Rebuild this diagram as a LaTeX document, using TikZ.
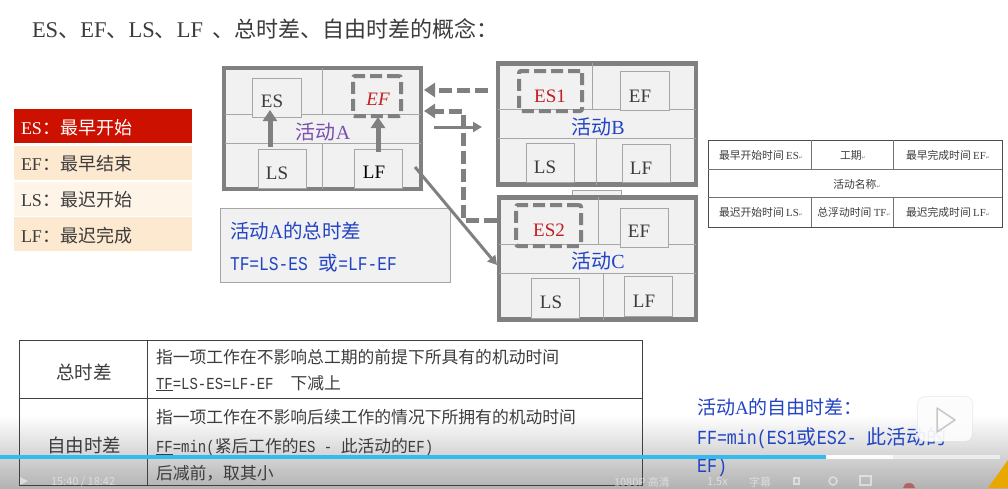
\documentclass[tikz,border=0pt]{standalone}
\usepackage{fontspec}
\usetikzlibrary{arrows.meta}
\setmainfont{Noto Sans CJK SC}
\newfontfamily\lat{Liberation Serif}
\newfontfamily\hw[FakeStretch=0.833]{Liberation Mono}
\newfontfamily\mk{DejaVu Sans}
\newcommand{\fs}[1]{\fontsize{#1}{#1}\selectfont}
\newcommand{\rt}{{\mk\fontsize{5}{5}\selectfont\textcolor{gray}{↵}}}
\newcommand{\qcolon}{\symbol{"FF1A}}
\newcommand{\qcomma}{\symbol{"FF0C}}
\newcommand{\tl}[1]{{\lat\fs{22.5}#1}}
\definecolor{framegray}{HTML}{808080}
\definecolor{cellfill}{HTML}{F1F1F1}
\definecolor{thin}{HTML}{A6A6A6}
\definecolor{txtdark}{HTML}{3C3C3C}
\definecolor{bluetxt}{HTML}{2244C4}
\definecolor{redtxt}{HTML}{C02020}
\definecolor{purptxt}{HTML}{7A4FB0}
\definecolor{legred}{HTML}{CC1100}
\definecolor{legorange}{HTML}{FDE8D0}
\definecolor{legpale}{HTML}{FEF4E8}
\definecolor{barblue}{HTML}{33BBEE}
\definecolor{cornergold}{HTML}{E8A800}
\tikzset{
 x=1pt,y=-1pt,
 every node/.style={inner sep=0pt,outer sep=0pt,text=txtdark},
 actbox/.style={draw=framegray,line width=4.5pt,fill=cellfill,minimum width=197pt,minimum height=121pt},
 cellbox/.style={draw=thin,line width=0.9pt,fill=cellfill},
 dashbox/.style={draw=framegray,line width=4pt,dash pattern=on 12pt off 5pt,rounded corners=2pt},
 inner/.style={draw=thin,line width=0.9pt},
 heavy/.style={draw=framegray,line width=5pt,-{Triangle[length=11pt,width=14pt]}},
 dashheavy/.style={heavy,dash pattern=on 13pt off 5pt},
 light/.style={draw=framegray,line width=3pt,-{Triangle[length=9pt,width=10pt]}},
 celltxt/.style={font=\lat\fs{19}},
 acttxt/.style={font=\fs{20},text=bluetxt},
 legend/.style={minimum width=178pt,minimum height=34pt},
 legtxt/.style={anchor=west,font=\fs{18}},
 rowtxt/.style={anchor=west,font=\fs{16.8}},
 smalltxt/.style={font=\fs{10.8}},
 tableline/.style={draw=#1,line width=1pt},
 uitxt/.style={anchor=west,font=\fs{11},text=white,opacity=.5},
 uiicon/.style={draw=white,opacity=.5,line width=1.5pt},
}
\begin{document}
\begin{tikzpicture}
\useasboundingbox (0,0) rectangle (1008,488);
\fill[white] (0,0) rectangle (1008,488);
\shade[top color=white,bottom color=black!30] (0,415) rectangle (1008,488);

% title
\node[anchor=west,font=\fs{22}] (title) at (32,29) {\tl{ES}、\tl{EF}、\tl{LS}、\tl{LF}\hspace{9pt}、总时差、自由时差的概念\qcolon};

% legend
\node[legend,fill=legred] (l1) at (103,126) {};
\node[legend,fill=legorange] (l2) at (103,163) {};
\node[legend,fill=legpale] (l3) at (103,198.5) {};
\node[legend,fill=legorange] (l4) at (103,234) {};
\node[legtxt,text=white] (l1t) at (21,128) {{\lat ES}\qcolon 最早开始};
\node[legtxt] (l2t) at (21,164) {{\lat EF}\qcolon 最早结束};
\node[legtxt] (l3t) at (21,200) {{\lat LS}\qcolon 最迟开始};
\node[legtxt] (l4t) at (21,236) {{\lat LF}\qcolon 最迟完成};

% small box peeking above C
\node[cellbox,minimum width=49pt,minimum height=8pt] (peek) at (596.5,194) {};

% activity A
\node[actbox] (A) at (322.5,128.5) {};
\draw[inner] (224.5,114) -- (420.5,114) (224.5,143) -- (420.5,143) (322,68) -- (322,114) (322,143) -- (322,189);
\node[cellbox,minimum width=49pt,minimum height=39pt] (AES) at (276.5,97.5) {};
\node[cellbox,minimum width=48pt,minimum height=39pt] (ALS) at (282,168.5) {};
\node[cellbox,minimum width=48pt,minimum height=39pt] (ALF) at (378,168.5) {};
\node[dashbox,minimum width=48pt,minimum height=40pt] (AEF) at (377,96) {};
\node[celltxt] (AESt) at (272,101) {ES};
\node[celltxt,text=redtxt,font=\lat\itshape\fs{19}] (AEFt) at (378,99.5) {EF};
\node[celltxt] (ALSt) at (277,173) {LS};
\node[celltxt,text=black] (ALFt) at (374,172) {LF};
\node[acttxt,text=purptxt] (An) at (323,132) {活动{\lat A}};

% activity B
\node[actbox,minimum width=198pt] (B) at (597,124) {};
\draw[inner] (498,109) -- (696,109) (498,138) -- (696,138) (592,63) -- (592,109) (596,138) -- (596,185);
\node[cellbox,minimum width=49pt,minimum height=39pt] (BEF) at (644.5,91) {};
\node[cellbox,minimum width=48pt,minimum height=39pt] (BLS) at (550,162.5) {};
\node[cellbox,minimum width=48pt,minimum height=38pt] (BLF) at (646,163) {};
\node[dashbox,minimum width=63pt,minimum height=40pt] (ES1) at (550.5,91) {};
\node[celltxt,text=redtxt] (ES1t) at (550,96) {ES1};
\node[celltxt] (BEFt) at (640,96) {EF};
\node[celltxt] (BLSt) at (545,167) {LS};
\node[celltxt] (BLFt) at (641,168) {LF};
\node[acttxt] (Bn) at (598,127) {活动{\lat B}};

% activity C
\node[actbox,minimum width=197pt,minimum height=122pt] (C) at (597.5,258.5) {};
\draw[inner] (499,244) -- (696,244) (499,273) -- (696,273) (598,197) -- (598,244) (603,273) -- (603,320);
\node[cellbox,minimum width=48pt,minimum height=39pt] (CEF) at (644,227.5) {};
\node[cellbox,minimum width=48pt,minimum height=40pt] (CLS) at (555,298) {};
\node[cellbox,minimum width=48pt,minimum height=40pt] (CLF) at (648,296) {};
\node[dashbox,minimum width=65pt,minimum height=41pt] (ES2) at (548.5,225.5) {};
\node[celltxt,text=redtxt] (ES2t) at (549,230) {ES2};
\node[celltxt] (CEFt) at (639,231) {EF};
\node[celltxt] (CLSt) at (551,302) {LS};
\node[celltxt] (CLFt) at (644,301) {LF};
\node[acttxt] (Cn) at (598,261) {活动{\lat C}};

% connector ends
\coordinate (b1) at (488,90);
\coordinate (c1) at (497,220);
\coordinate (m1) at (463,220);
\coordinate (m2) at (463,111);
\coordinate (a1) at (424,90);
\coordinate (a2) at (424,111);
\coordinate (s1) at (434,127);
\coordinate (s2) at (482,127);
\coordinate (d1) at (415,167);
\coordinate (d2) at (497,265);
\coordinate (u1a) at (270,147);
\coordinate (u1b) at (270,110);
\coordinate (u2a) at (378,152);
\coordinate (u2b) at (378,117);

% slack box
\node[draw=thin,line width=1pt,fill=cellfill,minimum width=230pt,minimum height=74pt] (slack) at (335,245) {};
\node[anchor=west,font=\fs{19.5},text=bluetxt] (slack1) at (230,231) {活动{\lat A}的总时差};
\node[anchor=west,font=\fs{19.5},text=bluetxt] (slack2) at (230,263) {{\hw TF=LS-ES\hspace{11pt}}或{\hw =LF-EF}};

\draw[heavy] (u1a) -- (u1b);
\draw[heavy] (u2a) -- (u2b);
\draw[dashheavy] (b1) -- (a1);
\draw[dashheavy] (c1) -- (m1) -- (m2) -- (a2);
\draw[light] (s1) -- (s2);
\draw[light] (d1) -- (d2);

% right table
\draw[tableline=black!70] (708,140) rectangle (1002,227);
\draw[tableline=black!55] (708,169) -- (1002,169) (708,197) -- (1002,197) (811.5,140) -- (811.5,169) (893,140) -- (893,169) (811.5,197) -- (811.5,227) (893,197) -- (893,227);
\node[smalltxt] (r1) at (761,155) {最早开始时间 {\lat ES}\rt};
\node[smalltxt] (r2) at (853,155) {工期\rt};
\node[smalltxt] (r3) at (948,155) {最早完成时间 {\lat EF}\rt};
\node[smalltxt] (r4) at (857,184) {活动名称\rt};
\node[smalltxt] (r5) at (761,212) {最迟开始时间 {\lat LS}\rt};
\node[smalltxt] (r6) at (854,212) {总浮动时间 {\lat TF}\rt};
\node[smalltxt] (r7) at (948,212) {最迟完成时间 {\lat LF}\rt};

% bottom table
\draw[tableline=black!75] (19,340) rectangle (642,485);
\draw[tableline=black!75] (19,398) -- (642,398) (147,340) -- (147,485);
\node[font=\fs{18.5}] (t1) at (84,372) {总时差};
\node[font=\fs{18.5}] (t2) at (84,445) {自由时差};
\node[rowtxt] (t3) at (156,357) {指一项工作在不影响总工期的前提下所具有的机动时间};
\node[rowtxt] (t4) at (156,383) {{\hw\underline{TF}=LS-ES=LF-EF\hspace{17pt}}下减上};
\node[rowtxt] (t5) at (156,417) {指一项工作在不影响后续工作的情况下所拥有的机动时间};
\node[rowtxt] (t6) at (156,447) {{\hw\underline{FF}=min(}紧后工作的{\hw ES - }此活动的{\hw EF)}};
\node[rowtxt] (t7) at (156,473) {后减前\qcomma 取其小};

% free float note
\node[anchor=west,font=\fs{19},text=bluetxt] (f1) at (697,407) {活动{\lat A}的自由时差\qcolon};
\node[anchor=west,font=\fs{20},text=bluetxt] (f2) at (697,438) {{\hw FF=min(ES1}或{\hw ES2- }此活动的};
\node[anchor=west,font=\fs{20},text=bluetxt] (f3) at (697,467) {{\hw EF)}};

% player overlay
\fill[white,opacity=.6] (826,455) rectangle (1000,459);
\fill[white,opacity=.85] (826,455) rectangle (893,459);
\fill[barblue] (0,455) rectangle (826,459);
\fill[cornergold] (988,488) -- (1008,460) -- (1008,488) -- cycle;
\draw[white,opacity=.85,line width=3pt,line cap=round] (934,397) -- (929,391) (956,397) -- (961,391);
\fill[black!12,opacity=.5,rounded corners=8pt] (917,396) rectangle (973,442);
\fill[white,opacity=.85,rounded corners=7pt] (918,397) rectangle (972,441);
\draw[black!22,line width=1.5pt,line join=round] (937,408) -- (955,420) -- (937,432) -- cycle;
\fill[white,opacity=.5] (20,477) -- (28,481) -- (20,485) -- cycle;
\node[uitxt] (u1) at (51,482) {15:40 / 18:42};
\node[uitxt] (u2) at (614,482) {1080P 高清};
\node[uitxt] (u3) at (707,482) {1.5x};
\node[uitxt] (u4) at (749,482) {字幕};
\draw[uiicon] (794,478) rectangle (799,484);
\draw[uiicon] (833,481) circle (4pt);
\draw[uiicon] (860,476) rectangle (871,485);
\fill[red!70!black,opacity=.45] (915,488) arc (180:360:-6pt and -5pt) -- cycle;
\end{tikzpicture}
\end{document}
